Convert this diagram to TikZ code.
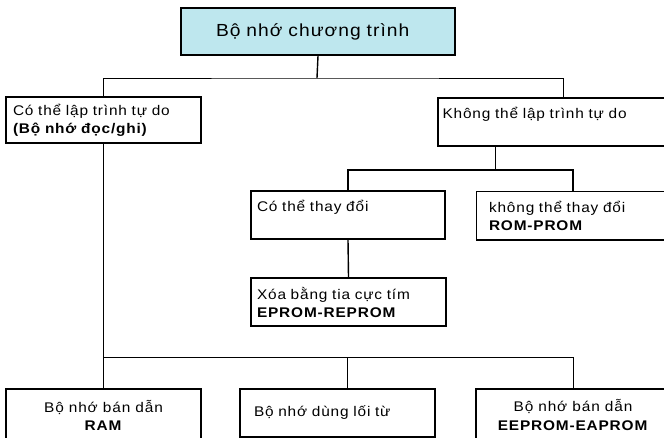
\documentclass[tikz,border=0pt]{standalone}
\usepackage{fontspec}
\setmainfont{Liberation Sans}[FakeStretch=1.1,LetterSpace=6]
\usetikzlibrary{positioning}
\usetikzlibrary{calc}
\definecolor{titlecyan}{RGB}{190,231,238}
\tikzstyle{block} = [draw, rectangle, line width=1.5pt, inner ysep=0pt, font=\fontsize{14}{18}\selectfont]
\tikzstyle{leftblock} = [block, align=left]
\tikzstyle{midblock} = [block, align=center]
\tikzstyle{coord} = [coordinate]
\tikzstyle{thinline} = [line width=0.8pt]
\tikzstyle{thickline} = [line width=1.4pt]

\begin{document}
\begin{tikzpicture}[x=1pt,y=-1pt]
    \useasboundingbox (0,0) rectangle (664,438);
    \clip (0,0) rectangle (664,438);

    \node [leftblock, fill=titlecyan, text width=204pt, inner xsep=35pt, minimum height=47pt,
           font=\fontsize{17.5}{21}\selectfont] (prog) at (318,31.7) {Bộ nhớ chương trình};
    \node [leftblock, text width=181pt, inner xsep=7pt, minimum height=46pt] (free) at (103.5,120)
          {Có thể lập trình tự do\\\textbf{(Bộ nhớ đọc/ghi)}};
    \node [leftblock, text width=241pt, inner xsep=4.5pt, minimum height=48pt] (notfree) at (563,122)
          {Không thể lập trình tự do\\\mbox{}};
    \node [leftblock, text width=182pt, inner xsep=6pt, minimum height=48pt] (change) at (348,215)
          {Có thể thay đổi\\\mbox{}};
    \node [leftblock, text width=168pt, inner xsep=12.5pt, minimum height=48.5pt] (nochange) at (573,216)
          {không thể thay đổi\\\textbf{ROM-PROM}};
    \node [leftblock, text width=183pt, inner xsep=6pt, minimum height=48pt] (uv) at (348.5,302)
          {Xóa bằng tia cực tím\\\textbf{EPROM-REPROM}};
    \node [midblock, minimum width=195pt, minimum height=52pt] (ram) at (103.5,415)
          {Bộ nhớ bán dẫn\\\textbf{RAM}};
    \node [leftblock, text width=167pt, inner xsep=14pt, minimum height=48pt] (core) at (337.5,413)
          {Bộ nhớ dùng lối từ};
    \node [midblock, minimum width=194pt, minimum height=52pt] (eeprom) at (573,415)
          {Bộ nhớ bán dẫn\\\textbf{EEPROM-EAPROM}};

    \coordinate (split1) at (317,78);
    \coordinate (nfbot) at (495.5,146);
    \coordinate (split2) at (495.5,170);
    \coordinate (split3) at (103.5,357);
    \coordinate (coretop) at ($(core.north)+(9.5,0)$);

    \draw [thickline] (prog.south) -- (split1);
    \draw [thinline] (free.north) |- (split1) -| (notfree.north);
    \draw [thickline] (nfbot) -- (split2);
    \draw [thickline] (change.north) |- (split2) -| (nochange.north);
    \draw [thickline] (change.south) -- (uv.north);
    \draw [thinline] (free.south) -- (ram.north);
    \draw [thinline] (split3) -| (eeprom.north);
    \draw [thinline] (coretop |- split3) -- (coretop);
\end{tikzpicture}
\end{document}
